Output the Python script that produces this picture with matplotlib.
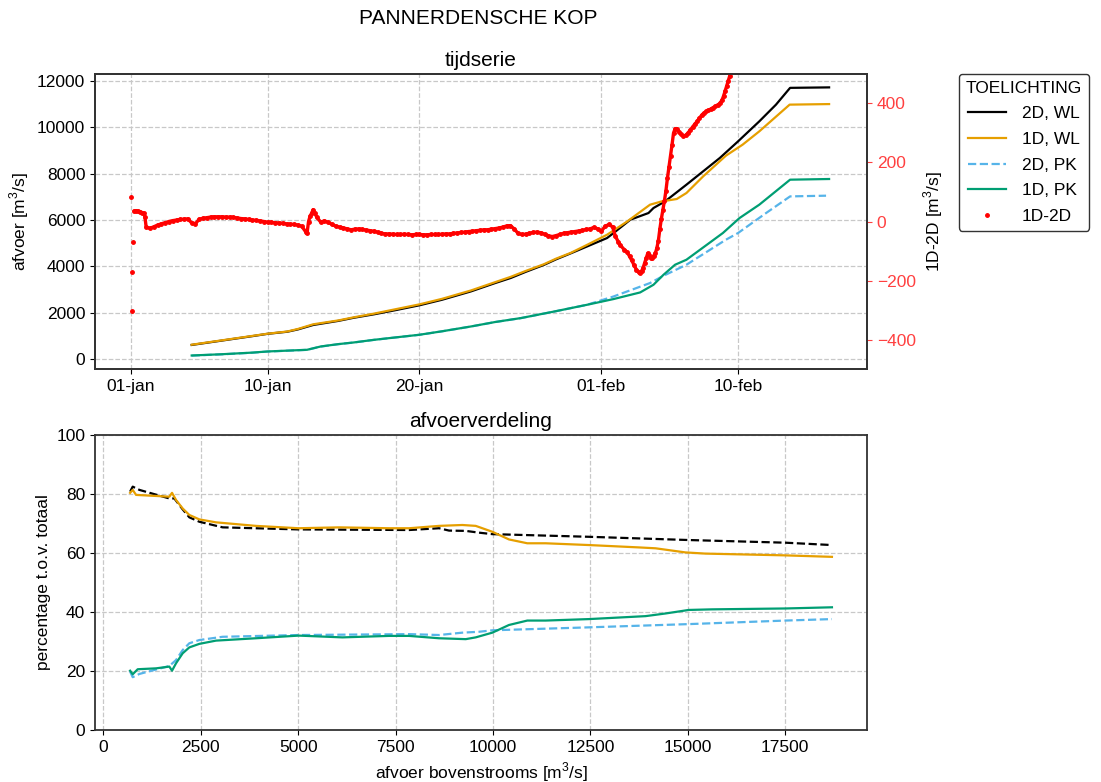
import numpy as np
import pandas as pd
import matplotlib
matplotlib.use("Agg")
import matplotlib.pyplot as plt
import matplotlib.dates as mdates
from matplotlib.ticker import FuncFormatter

plt.rcParams["font.family"] = ["Liberation Sans", "DejaVu Sans"]
plt.rcParams["font.size"] = 12.5
plt.rcParams["mathtext.fontset"] = "custom"
plt.rcParams["mathtext.rm"] = "Liberation Sans"

START = pd.Timestamp("2021-01-01")

# --- tijdserie: afvoer Waal (WL) en Pannerdensch Kanaal (PK), dagen na 1 jan ---
wl2d_day = [4.0, 6.0, 8.0, 9.0, 10.3, 11.0, 12.0, 13.68, 14.66, 16.0, 17.5, 19.0,
            20.5, 22.4, 24.0, 25.03, 26.0, 27.2, 28.0, 28.97, 30.06, 31.37, 31.8,
            32.9, 34.1, 34.43, 35.19, 36.6, 38.8, 40.0, 41.4, 42.5, 43.43, 46.0]
wl2d_q = [610, 800, 990, 1090, 1180, 1280, 1470, 1650, 1780, 1930, 2120, 2320,
          2560, 2920, 3280, 3500, 3760, 4060, 4300, 4560, 4860, 5222, 5438,
          6012, 6301, 6517, 6802, 7523, 8675, 9391, 10254, 10976, 11700, 11720]

wl1d_day = [4.0, 6.0, 8.0, 9.0, 10.3, 11.0, 12.0, 13.68, 14.66, 16.0, 17.5, 19.0,
            20.5, 22.4, 24.0, 25.03, 26.0, 27.2, 28.0, 28.97, 30.06, 31.37, 32.7,
            34.2, 34.97, 35.96, 36.6, 37.7, 39.2, 40.3, 41.4, 43.4, 46.0]
wl1d_q = [620, 810, 1000, 1095, 1190, 1300, 1500, 1670, 1800, 1960, 2160, 2360,
          2600, 2960, 3320, 3550, 3800, 4090, 4330, 4580, 4930, 5365, 5939,
          6660, 6802, 6905, 7164, 7881, 8774, 9249, 9823, 10976, 11000]

pk2d_day = [4.0, 6.0, 8.0, 9.0, 11.6, 12.5, 13.68, 14.66, 16.0, 17.5, 19.0, 20.5,
            22.4, 24.0, 25.7, 27.9, 30.06, 31.8, 34.2, 35.09, 36.6, 39.2, 40.0,
            41.85, 43.43, 45.8]
pk2d_q = [150, 205, 275, 325, 398, 540, 645, 714, 828, 938, 1047, 1198,
          1405, 1598, 1768, 2052, 2344, 2702, 3280, 3595, 4070, 5149, 5438,
          6301, 7018, 7048]

pk1d_day = [4.0, 6.0, 8.0, 9.0, 11.6, 12.5, 13.68, 14.66, 16.0, 17.5, 19.0, 20.5,
            22.4, 24.0, 25.7, 27.9, 30.06, 31.8, 33.55, 34.43, 35.09, 35.85, 36.6,
            39.0, 40.1, 41.4, 43.43, 46.0]
pk1d_q = [155, 210, 280, 329, 401, 544, 647, 716, 830, 940, 1049, 1200,
          1407, 1600, 1770, 2054, 2344, 2590, 2875, 3207, 3638, 4070, 4286,
          5438, 6085, 6660, 7739, 7768]

# --- verschil 1D-2D (rechter as); de eerste vier waarden zijn losse opstartpunten ---
diff_day = [0.0, 0.04, 0.08, 0.13, 0.2, 0.3, 0.45, 0.6, 0.75, 0.85, 0.92,
            1.0, 1.25, 1.5, 1.75, 2.0, 2.25, 2.5, 2.75, 3.0, 3.25, 3.5, 3.75,
            4.0, 4.25, 4.5, 4.75, 5.0, 5.25, 5.5, 5.75, 6.0, 6.25, 6.5, 6.75,
            7.0, 7.25, 7.5, 7.75, 8.0, 8.25, 8.5, 8.75, 9.0, 9.25, 9.5, 9.75,
            10.0, 10.25, 10.5, 10.75, 11.0, 11.25, 11.5, 11.6, 11.7, 11.8, 11.9,
            12.0, 12.1, 12.25, 12.5, 12.75, 13.0, 13.25, 13.5, 13.75, 14.0, 14.25,
            14.5, 14.75, 15.0, 15.25, 15.5, 15.75, 16.0, 16.25, 16.5, 16.75, 17.0,
            17.25, 17.5, 17.75, 18.0, 18.25, 18.5, 18.75, 19.0, 19.25, 19.5, 19.75,
            20.0, 20.25, 20.5, 20.75, 21.0, 21.25, 21.5, 21.75, 22.0, 22.25, 22.5,
            22.75, 23.0, 23.25, 23.5, 23.75, 24.0, 24.25, 24.5, 24.75, 25.0, 25.25,
            25.5, 25.75, 26.0, 26.25, 26.5, 26.75, 27.0, 27.25, 27.5, 27.75, 28.0,
            28.25, 28.5, 28.75, 29.0, 29.25, 29.5, 29.75, 30.0, 30.25, 30.5, 30.75,
            31.0, 31.25, 31.5, 31.75, 31.9, 32.1, 32.25, 32.5, 32.7, 32.85, 33.0,
            33.15, 33.3, 33.45, 33.55, 33.65, 33.75, 33.85, 33.95, 34.05, 34.15,
            34.25, 34.35, 34.45, 34.55, 34.65, 34.75, 34.85, 34.95, 35.05, 35.15,
            35.25, 35.35, 35.45, 35.55, 35.65, 35.75, 35.85, 35.95, 36.1, 36.25,
            36.4, 36.55, 36.7, 36.85, 37.0, 37.15, 37.3, 37.45, 37.6, 37.75, 37.9,
            38.05, 38.2, 38.35, 38.5, 38.65, 38.8, 38.95, 39.05, 39.15, 39.25,
            39.35, 39.45, 39.55, 39.65]
diff_q = [82, -302, -170, -68, 35, 37, 35, 33, 30, 28, 15,
          -19, -23, -18, -12, -8, -4, 0, 3, 5, 7, 8, 9,
          -5, -7, 8, 11, 13, 15, 16, 16, 16, 15, 15, 14,
          12, 10, 9, 7, 5, 4, 2, 0, -2, -3, -4, -5,
          -6, -8, -9, -10, -12, -16, -34, -40, 0, 18, 28,
          40, 30, 14, -2, 2, -3, -10, -16, -19, -22, -25,
          -28, -26, -25, -27, -29, -31, -33, -36, -40, -42, -42,
          -43, -44, -44, -43, -44, -45, -44, -44, -45, -45, -44,
          -44, -44, -43, -42, -42, -40, -39, -37, -36, -34, -33,
          -31, -30, -28, -28, -26, -24, -22, -19, -15, -14, -25,
          -40, -44, -43, -40, -37, -36, -38, -43, -48, -51, -48,
          -44, -40, -38, -36, -34, -32, -30, -27, -25, -20, -25,
          -32, -16, -10, -19, -48, -68, -81, -95, -104, -118, -132,
          -148, -163, -172, -175, -168, -156, -140, -125, -108, -112,
          -125, -124, -116, -108, -90, -65, -25, 10, 40, 70,
          105, 148, 185, 222, 260, 300, 314, 315, 305, 295,
          290, 292, 300, 310, 320, 330, 339, 350, 360, 368, 373,
          377, 381, 386, 390, 395, 400, 412, 426, 442, 459,
          476, 492, 510, 530]
N_LOOSE = 4

# --- afvoerverdeling: aandeel t.o.v. totale afvoer bovenstrooms ---
wl2d_x = [685, 752, 923, 1692, 1820, 2034, 2205, 2462, 3060, 5009, 7846, 8615,
          8872, 9300, 9641, 9983, 12462, 15026, 17505, 18700]
wl2d_pct = [80.8, 82.5, 81.4, 78.5, 78.5, 74.8, 72.1, 70.6, 68.7, 68.0, 67.8, 68.4,
            67.6, 67.5, 66.9, 66.4, 65.5, 64.4, 63.5, 62.7]

wl1d_x = [685, 752, 838, 1692, 1761, 1863, 2034, 2205, 2462, 2889, 3915, 5009,
          6051, 7333, 7846, 8615, 9213, 9556, 9983, 10410, 10880, 11350, 12462,
          13744, 14172, 14941, 15453, 17505, 18700]
wl1d_pct = [80.4, 81.4, 79.7, 79.1, 80.4, 78.0, 75.1, 72.9, 71.4, 70.4, 69.2, 68.4,
            68.7, 68.4, 68.4, 69.2, 69.5, 69.2, 67.2, 64.6, 63.3, 63.3, 62.7,
            61.9, 61.6, 60.2, 59.8, 59.2, 58.7]

pk2d_x = [685, 752, 923, 1692, 1863, 2034, 2205, 2462, 3060, 5009, 7846, 8615,
          9213, 9641, 9983, 12462, 15026, 17505, 18700]
pk2d_pct = [19.8, 17.9, 19.0, 21.7, 23.7, 27.1, 29.4, 30.5, 31.6, 32.2, 32.5, 32.2,
            33.0, 33.3, 33.8, 34.8, 35.9, 37.1, 37.6]

pk1d_x = [685, 752, 880, 1350, 1692, 1761, 1863, 2034, 2205, 2462, 2889, 3915,
          5009, 6136, 7333, 7846, 8615, 9300, 9556, 9983, 10410, 10880, 11350,
          12462, 13915, 14428, 15026, 15623, 17505, 18700]
pk1d_pct = [20.1, 18.9, 20.6, 20.9, 21.5, 20.1, 22.6, 26.0, 28.0, 29.2, 30.3, 31.1,
            32.0, 31.4, 31.9, 31.9, 31.1, 30.8, 31.4, 33.0, 35.6, 37.1, 37.1,
            37.6, 38.6, 39.5, 40.7, 40.9, 41.2, 41.6]

MONTHS_NL = {1: "jan", 2: "feb", 3: "mrt", 4: "apr", 5: "mei", 6: "jun",
             7: "jul", 8: "aug", 9: "sep", 10: "okt", 11: "nov", 12: "dec"}

C_WL2D = "black"
C_WL1D = "#E69F00"
C_PK2D = "#56B4E9"
C_PK1D = "#009E73"
C_DIFF = "red"
C_AX2 = "#ff4040"
LW = 1.6
GRID = dict(linestyle="--", color="#c8c8c8", linewidth=0.9)


def to_time(days):
    return START + pd.to_timedelta(np.asarray(days, dtype=float), unit="D")


def date_label(x, pos=None):
    d = mdates.num2date(x)
    return f"{d.day:02d}-{MONTHS_NL[d.month]}"


def style_spines(ax):
    for s in ax.spines.values():
        s.set_color("#333333")
        s.set_linewidth(1.3)


fig = plt.figure(figsize=(11.01, 7.82), dpi=100)
ax1 = fig.add_axes([0.0863, 0.5281, 0.7012, 0.3773])
ax3 = fig.add_axes([0.0863, 0.0665, 0.7012, 0.3772])

# bovenste figuur: tijdserie
ax1.plot(to_time(wl2d_day), wl2d_q, color=C_WL2D, lw=LW, label="2D, WL")
ax1.plot(to_time(wl1d_day), wl1d_q, color=C_WL1D, lw=LW, label="1D, WL")
ax1.plot(to_time(pk2d_day), pk2d_q, color=C_PK2D, lw=LW, ls="--", label="2D, PK")
ax1.plot(to_time(pk1d_day), pk1d_q, color=C_PK1D, lw=LW, label="1D, PK")
ax1.set_ylabel("afvoer [m$^3$/s]")
ax1.set_title("tijdserie", fontsize=15)
ax1.grid(True, **GRID)
ax1.set_yticks(np.arange(0, 12001, 2000))
ax1.xaxis.set_major_locator(mdates.DayLocator(bymonthday=[1, 10, 20]))
ax1.xaxis.set_major_formatter(FuncFormatter(date_label))
ax1.set_xlim(to_time([-2.37])[0], to_time([48.5])[0])
style_spines(ax1)

ax2 = ax1.twinx()
t_diff = to_time(diff_day)
# dichte puntenreeks: dunne verbindingslijn onder de punten
ax2.plot(t_diff[N_LOOSE:], diff_q[N_LOOSE:], color=C_DIFF, lw=2.4,
         solid_capstyle="round")
ax2.plot(t_diff, diff_q, ls="none", marker=".", ms=5, color=C_DIFF, label="1D-2D")
ax2.set_ylim(-500, 500)
ax2.set_yticks([-400, -200, 0, 200, 400])
ax2.tick_params(axis="y", colors=C_AX2)
ax2.set_ylabel("1D-2D [m$^3$/s]")
style_spines(ax2)

h1, l1 = ax1.get_legend_handles_labels()
h2, l2 = ax2.get_legend_handles_labels()
leg = ax2.legend(h1 + h2, l1 + l2, title="TOELICHTING", loc="upper left",
                 bbox_to_anchor=(1.119, 1.0), borderaxespad=0.0,
                 fontsize=12.5, title_fontsize=12.5, framealpha=1.0,
                 edgecolor="#333333", fancybox=True, labelspacing=0.6,
                 handlelength=2.2, handletextpad=0.9)
leg.get_frame().set_linewidth(1.0)

# onderste figuur: afvoerverdeling
ax3.plot(wl2d_x, wl2d_pct, color=C_WL2D, lw=LW, ls="--")
ax3.plot(wl1d_x, wl1d_pct, color=C_WL1D, lw=LW)
ax3.plot(pk2d_x, pk2d_pct, color=C_PK2D, lw=LW, ls="--")
ax3.plot(pk1d_x, pk1d_pct, color=C_PK1D, lw=LW)
ax3.set_ylim(0, 100)
ax3.set_xticks(np.arange(0, 17501, 2500))
ax3.set_xlabel("afvoer bovenstrooms [m$^3$/s]")
ax3.set_ylabel("percentage t.o.v. totaal")
ax3.set_title("afvoerverdeling", fontsize=15)
ax3.grid(True, **GRID)
style_spines(ax3)

fig.suptitle("PANNERDENSCHE KOP", fontsize=15, x=0.434, y=0.988)

fig.savefig("out.png", dpi=100)
